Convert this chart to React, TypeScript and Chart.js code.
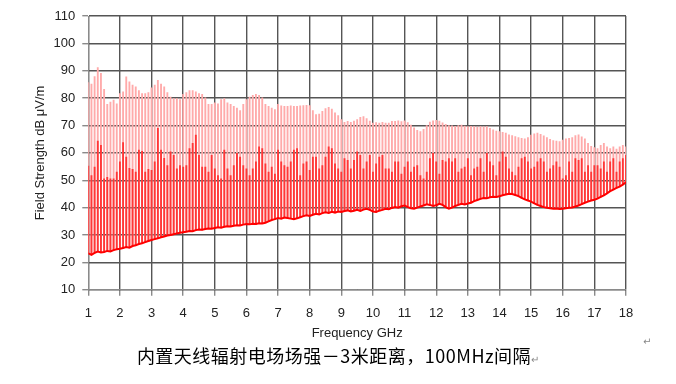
import React, { useEffect, useRef } from "react";
import { Chart, registerables } from "chart.js";

Chart.register(...registerables);

// Measurement grid: 1 GHz to 18 GHz, 100 MHz spacing
const FREQ_START_GHZ = 1.0;
const FREQ_STEP_GHZ = 0.1;

// Upper (peak) level of each line, dBµV/m
const peakLevels = [
  85.7, 85.1, 87.9, 91.2, 89.1, 83.2, 77.7, 78.6, 79.3, 77.9,
  81.7, 82.3, 87.8, 86.0, 84.8, 84.1, 82.8, 81.7, 81.7, 82.0,
  83.8, 84.8, 86.5, 85.1, 84.1, 82.0, 80.4, 79.8, 79.8, 79.5,
  81.4, 82.0, 82.8, 82.8, 82.3, 81.7, 81.4, 80.1, 77.7, 77.7,
  78.3, 77.9, 79.5, 79.8, 78.3, 77.7, 77.0, 76.4, 75.5, 77.7,
  79.5, 80.4, 81.0, 81.4, 81.0, 80.1, 77.7, 77.0, 76.4, 75.8,
  77.7, 77.2, 77.0, 77.0, 77.2, 77.0, 77.0, 77.2, 77.3, 77.4,
  77.3, 75.5, 74.0, 74.2, 75.2, 76.2, 76.6, 76.0, 74.6, 73.6,
  72.2, 71.2, 71.5, 71.2, 71.6, 72.2, 73.0, 73.3, 72.5, 71.6,
  70.9, 71.1, 70.9, 71.2, 70.9, 70.9, 71.5, 71.5, 71.7, 71.4,
  71.7, 71.1, 70.2, 69.2, 68.2, 67.8, 68.6, 70.0, 71.3, 71.7,
  71.9, 71.6, 71.0, 70.4, 70.0, 69.9, 69.7, 70.0, 70.2, 69.8,
  69.6, 69.7, 69.6, 69.4, 69.6, 69.5, 69.6, 69.0, 68.4, 68.0,
  67.8, 67.5, 67.2, 66.6, 66.3, 66.0, 65.6, 65.3, 65.1, 65.6,
  66.5, 67.0, 67.2, 66.8, 66.2, 65.6, 65.0, 64.5, 64.3, 64.1,
  64.7, 65.1, 65.3, 65.6, 66.3, 66.6, 65.9, 65.1, 63.5, 62.4,
  61.9, 61.6, 62.8, 63.5, 62.2, 61.6, 62.2, 61.4, 62.2, 62.8,
  62.2,
];

// Second (average-like) level of each line, dBµV/m
const midLevels = [
  55.2, 51.7, 54.8, 64.3, 62.8, 50.5, 51.1, 50.5, 50.5, 53.0,
  56.7, 63.8, 58.5, 54.4, 54.0, 53.0, 61.0, 60.6, 53.0, 54.0,
  53.6, 56.7, 69.0, 61.0, 58.0, 55.4, 60.4, 59.1, 54.2, 55.4,
  54.8, 55.4, 61.6, 63.5, 66.5, 59.1, 54.8, 54.8, 53.0, 59.1,
  54.2, 51.7, 50.5, 61.0, 54.2, 51.7, 55.4, 59.8, 58.5, 55.4,
  54.2, 51.7, 54.2, 56.7, 62.2, 61.6, 56.0, 53.0, 54.8, 52.3,
  61.0, 56.7, 55.4, 54.8, 56.7, 61.0, 61.6, 51.7, 56.0, 56.7,
  53.6, 58.5, 58.5, 54.2, 55.4, 58.5, 62.2, 61.6, 56.0, 54.2,
  53.0, 57.9, 57.3, 54.2, 57.3, 60.4, 59.1, 54.2, 56.7, 59.1,
  53.0, 56.0, 58.5, 59.1, 54.2, 54.2, 53.0, 56.7, 56.7, 52.3,
  54.8, 56.7, 53.0, 54.8, 55.4, 51.7, 50.5, 53.0, 57.9, 59.8,
  56.7, 52.3, 57.3, 56.7, 57.9, 56.7, 57.9, 53.0, 54.2, 54.8,
  57.9, 51.7, 54.2, 54.8, 57.9, 53.0, 59.8, 56.7, 55.4, 51.7,
  56.7, 60.4, 58.5, 54.2, 53.0, 51.7, 54.8, 57.9, 58.5, 56.7,
  54.2, 54.8, 56.7, 57.9, 56.7, 53.0, 54.2, 55.4, 56.7, 54.8,
  50.5, 51.7, 56.7, 53.0, 57.9, 57.3, 57.9, 53.0, 55.4, 53.0,
  55.4, 55.4, 54.2, 56.7, 53.0, 56.7, 57.9, 53.0, 56.7, 57.9,
  59.1,
];

// Noise floor, dBµV/m
const floorLevels = [
  23.3, 22.8, 23.5, 24.0, 23.6, 23.8, 24.2, 24.0, 24.5, 24.8,
  25.0, 25.3, 25.6, 25.4, 26.0, 26.3, 26.7, 27.0, 27.4, 27.8,
  28.2, 28.5, 28.8, 29.2, 29.5, 29.8, 30.0, 30.3, 30.6, 30.8,
  31.0, 31.2, 31.5, 31.4, 31.8, 32.0, 31.9, 32.2, 32.4, 32.3,
  32.6, 32.8, 32.7, 33.0, 33.2, 33.1, 33.4, 33.6, 33.5, 33.8,
  34.0, 33.9, 34.1, 34.0, 34.3, 34.2, 34.5, 35.0, 35.5, 35.8,
  36.2, 36.0, 36.4, 36.2, 36.0, 35.8, 36.1, 36.5, 36.9, 37.2,
  37.0, 37.4, 37.8, 37.5, 38.0, 38.3, 38.1, 38.5, 38.2, 38.6,
  38.4, 38.8, 39.0, 38.6, 38.9, 39.2, 38.8, 39.3, 39.6, 39.2,
  38.6, 38.4, 38.9, 39.2, 39.6, 39.4, 39.9, 40.2, 40.0, 40.5,
  40.8, 40.2, 39.8, 39.6, 40.0, 40.4, 40.8, 41.2, 41.0, 40.6,
  40.9, 41.4, 41.0, 40.2, 39.6, 40.0, 40.6, 41.0, 41.4, 41.2,
  41.5, 41.8, 42.4, 42.8, 43.2, 43.5, 43.4, 43.8, 44.0, 43.9,
  44.2, 44.5, 44.8, 45.1, 45.0, 44.6, 44.2, 43.6, 43.0, 42.6,
  42.2, 41.6, 41.0, 40.6, 40.2, 40.0, 39.8, 39.6, 39.7, 39.5,
  39.6, 39.8, 40.0, 40.1, 40.4, 40.8, 41.3, 41.8, 42.2, 42.6,
  42.9, 43.3, 43.9, 44.5, 45.2, 46.0, 46.6, 47.2, 47.7, 48.4,
  49.3,
];

const X_MIN = 1;
const X_MAX = 18;
const Y_MIN = 10;
const Y_MAX = 110;
const Y_STEP = 10;

const X_TITLE = "Frequency GHz";
const Y_TITLE = "Field Strength dB \u03bcV/m";
const CAPTION = "内置天线辐射电场场强－3米距离，100MHz间隔";

export default function App() {
  const ref = useRef<HTMLCanvasElement>(null);

  useEffect(() => {
    const freqs = peakLevels.map((_, i) =>
      Math.round((FREQ_START_GHZ + i * FREQ_STEP_GHZ) * 10) / 10
    );
    const gridColor = "#555555";
    const axisColor = "#8a8a8a";
    const font = { family: "'Liberation Sans', Arial, sans-serif", size: 13 };
    const chart = new Chart(ref.current as HTMLCanvasElement, {
      type: "bar",
      data: {
        datasets: [
          {
            type: "line",
            label: "floor",
            data: freqs.map((f, i) => ({ x: f, y: floorLevels[i] })),
            borderColor: "#ff0000",
            borderWidth: 2,
            pointRadius: 0,
            tension: 0,
            order: 0,
          } as any,
          {
            type: "bar",
            label: "mid",
            data: freqs.map((f, i) => ({ x: f, y: [floorLevels[i], midLevels[i]] })),
            backgroundColor: "rgb(255,55,55)",
            barThickness: 1.2,
            grouped: false,
            order: 1,
          } as any,
          {
            type: "bar",
            label: "peak",
            data: freqs.map((f, i) => ({ x: f, y: [floorLevels[i], peakLevels[i]] })),
            backgroundColor: "rgb(255,170,170)",
            barThickness: 1.2,
            grouped: false,
            order: 2,
          } as any,
        ],
      },
      options: {
        responsive: false,
        animation: false,
        devicePixelRatio: 1,
        layout: { padding: { left: 22, top: 16, right: 50, bottom: 43 } },
        plugins: {
          legend: { display: false },
          tooltip: { enabled: false },
          title: { display: false },
        },
        scales: {
          x: {
            type: "linear",
            min: X_MIN,
            max: X_MAX,
            offset: false,
            ticks: { stepSize: 1, padding: 10, color: "#222", font, maxRotation: 0 },
            grid: {
              color: gridColor,
              tickColor: axisColor,
              lineWidth: 1.4,
              tickLength: 6,
              offset: false,
            },
            border: { color: axisColor, width: 1 },
            title: {
              display: true,
              text: X_TITLE,
              color: "#222",
              font,
              padding: { top: -6, bottom: 0 },
            },
          },
          y: {
            type: "linear",
            min: Y_MIN,
            max: Y_MAX,
            ticks: { stepSize: Y_STEP, padding: 7, color: "#222", font },
            grid: {
              color: gridColor,
              tickColor: axisColor,
              lineWidth: 1.4,
              tickLength: 6,
            },
            border: { color: axisColor, width: 1 },
            title: {
              display: true,
              text: Y_TITLE,
              color: "#222",
              font,
              padding: { top: 11, bottom: -2 },
            },
          },
        },
      } as any,
    });
    return () => chart.destroy();
  }, []);

  return (
    <div style={{ position: "absolute", left: 0, top: 0, width: 676, height: 384, background: "#fff" }}>
      <canvas ref={ref} width={676} height={384} style={{ display: "block" }} />
      <div
        style={{
          position: "absolute",
          left: 0,
          top: 342,
          width: 676,
          textAlign: "center",
          fontFamily: "'Noto Sans CJK SC', sans-serif",
          fontSize: 18,
          letterSpacing: "0.5px",
          lineHeight: "26px",
          color: "#000",
          whiteSpace: "nowrap",
        }}
      >
        {CAPTION}
        <span style={{ fontSize: 10, color: "#888", letterSpacing: 0 }}>↵</span>
      </div>
      <div
        style={{
          position: "absolute",
          left: 643,
          top: 336,
          fontFamily: "'DejaVu Sans', sans-serif",
          fontSize: 10,
          color: "#888",
        }}
      >
        ↵
      </div>
    </div>
  );
}
